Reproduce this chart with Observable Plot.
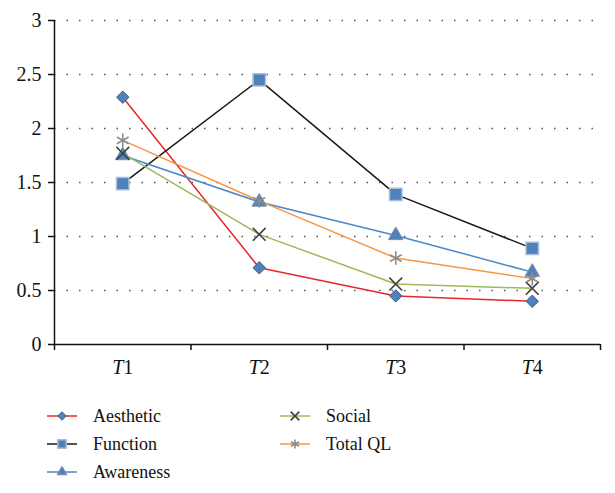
<!DOCTYPE html>
<html>
<head>
<meta charset="utf-8">
<script src="https://cdn.jsdelivr.net/npm/d3@7"></script>
<script src="https://cdn.jsdelivr.net/npm/@observablehq/plot@0.6"></script>
<style>
  html, body { margin: 0; padding: 0; background: #fff; }
  #chart { position: relative; width: 615px; }
  #legend { display: block; }
  #chart svg text { font-family: "Liberation Serif" !important; }
  #legend text { font-family: "DejaVu Serif" !important; }
</style>
</head>
<body>
<div id="chart"></div>
<script>
// ---- data ----
const categories = ["T1", "T2", "T3", "T4"];
const yTicks = [0, 0.5, 1, 1.5, 2, 2.5, 3];
const seriesNames = ["Aesthetic", "Function", "Awareness", "Social", "Total QL"];
const aesthetic = [2.29, 0.71, 0.45, 0.40];
const func      = [1.49, 2.45, 1.39, 0.89];
const awareness = [1.75, 1.32, 1.01, 0.67];
const social    = [1.77, 1.02, 0.56, 0.52];
const totalQL   = [1.89, 1.33, 0.80, 0.61];
const seriesValues = [aesthetic, func, awareness, social, totalQL];

// ---- styles ----
const styles = {
  "Aesthetic": {line: "#e8262b", symbol: "diamond2", fill: "#4f81bd", stroke: "#3f5f86", r: 5.6, sw: 1},
  "Function":  {line: "#1a1a1a", symbol: "square",   fill: "#4f81bd", stroke: "#a9bcd8", r: 7.0, sw: 1.5},
  "Awareness": {line: "#4a86c8", symbol: "triangle", fill: "#4f81bd", stroke: "#7d8da3", r: 5.4, sw: 1},
  "Social":    {line: "#9bbb59", symbol: "times",    fill: "none",    stroke: "#404040", r: 5.9, sw: 1.6},
  "Total QL":  {line: "#f79646", symbol: "asterisk", fill: "none",    stroke: "#8c8c8c", r: 6.4, sw: 1.6}
};

const rows = [];
seriesNames.forEach((name, si) => {
  seriesValues[si].forEach((v, ci) => {
    rows.push({series: name, cat: categories[ci], pos: ci + 0.5, value: v});
  });
});

const font = "Liberation Serif";

const lineMarks = seriesNames.map(name =>
  Plot.line(rows.filter(d => d.series === name), {
    x: "pos", y: "value", stroke: styles[name].line, strokeWidth: 1.5
  })
);
const dotMarks = seriesNames.map(name =>
  Plot.dot(rows.filter(d => d.series === name), {
    x: "pos", y: "value", symbol: () => styles[name].symbol,
    r: styles[name].r, fill: styles[name].fill, stroke: styles[name].stroke,
    strokeWidth: styles[name].sw
  })
);

const plot = Plot.plot({
  width: 615,
  height: 390,
  marginLeft: 54,
  marginRight: 15,
  marginTop: 20,
  marginBottom: 46,
  style: {fontFamily: font, fontSize: "19px", color: "#111", background: "#fff"},
  x: {type: "linear", domain: [0, categories.length], axis: null, label: null},
  y: {domain: [0, 3], axis: null, label: null},
  symbol: {type: "identity"},
  marks: [
    Plot.ruleY(yTicks.filter(v => v > 0), {stroke: "#555", strokeWidth: 1.5, strokeDasharray: "1.5,11"}),
    Plot.axisY({ticks: yTicks, tickSize: 6, tickPadding: 7, fontSize: 20, stroke: "#111", strokeWidth: 1.5,
      label: null, tickFormat: d => String(d)}),
    Plot.ruleX([0], {y1: 0, y2: 3, stroke: "#111", strokeWidth: 1.5}),
    Plot.ruleY([0], {stroke: "#111", strokeWidth: 1.5}),
    Plot.axisX({ticks: d3.range(categories.length + 1), tickSize: 6, label: null, tickFormat: () => "", stroke: "#111", strokeWidth: 1.5}),
    Plot.axisX({ticks: categories.map((c, i) => i + 0.5), tickSize: 0, tickPadding: 15, fontSize: 20, label: null,
      tickFormat: d => categories[Math.floor(d)]}),
    ...lineMarks,
    ...dotMarks
  ]
});

d3.select(plot).selectAll('g[aria-label="x-axis tick label"] text').each(function () {
  const t = this.textContent;
  if (!t) return;
  const sel = d3.select(this);
  sel.text("");
  sel.append("tspan").attr("font-style", "italic").text(t.slice(0, 1));
  sel.append("tspan").text(t.slice(1));
});

document.getElementById("chart").appendChild(plot);

const legendPos = [
  {col: 0, row: 0}, {col: 0, row: 1}, {col: 0, row: 2}, {col: 1, row: 0}, {col: 1, row: 1}
];
const colX = [47, 280];
const rowY = [26, 54, 82];
const legend = d3.select("#chart").append("svg")
  .attr("id", "legend")
  .attr("width", 615).attr("height", 103)
  .style("font-size", "18px");
seriesNames.forEach((name, i) => {
  const st = styles[name];
  const x0 = colX[legendPos[i].col], y0 = rowY[legendPos[i].row];
  const g = legend.append("g");
  g.append("line").attr("x1", x0).attr("x2", x0 + 30).attr("y1", y0).attr("y2", y0)
    .attr("stroke", st.line).attr("stroke-width", 1.5);
  const symMap = {diamond2: d3.symbolDiamond2, square: d3.symbolSquare, triangle: d3.symbolTriangle,
    times: d3.symbolTimes, asterisk: d3.symbolAsterisk};
  const rr = st.r * 0.68;
  g.append("path").attr("d", d3.symbol(symMap[st.symbol], Math.PI * rr * rr)())
    .attr("transform", `translate(${x0 + 15},${y0})`)
    .attr("fill", st.fill).attr("stroke", st.stroke).attr("stroke-width", st.sw);
  g.append("text").attr("x", x0 + 46).attr("y", y0).attr("dy", "0.35em").attr("fill", "#111").text(name);
});
</script>
</body>
</html>
